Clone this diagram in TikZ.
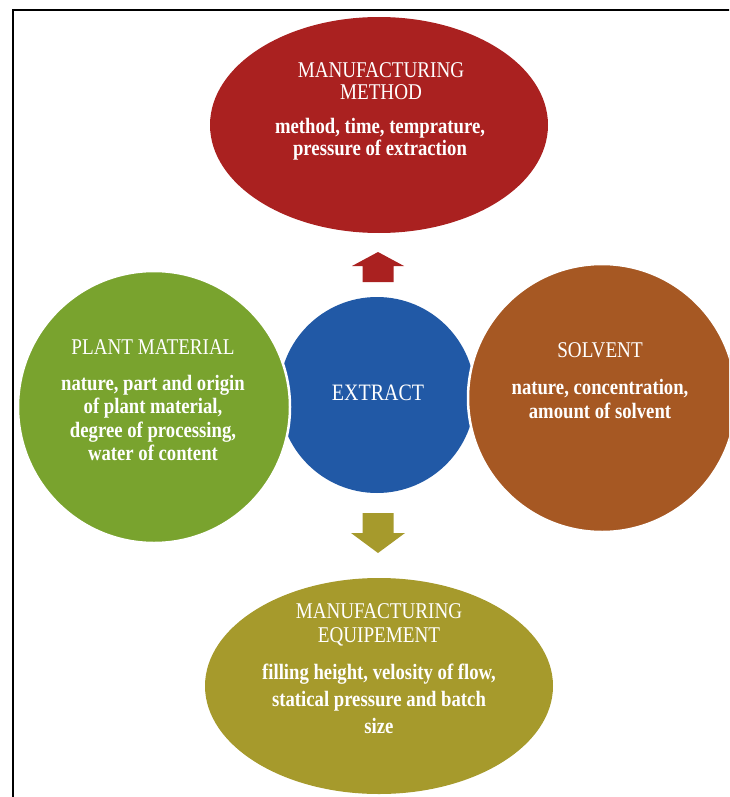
\documentclass[tikz,border=0pt]{standalone}
\usepackage{fontspec}
\setmainfont[FakeStretch=0.85]{Liberation Serif}
\usetikzlibrary{shapes.geometric}

\definecolor{methodred}{RGB}{170,33,32}
\definecolor{extractblue}{RGB}{33,89,166}
\definecolor{plantgreen}{RGB}{121,163,46}
\definecolor{solventbrown}{RGB}{166,88,35}
\definecolor{equipolive}{RGB}{166,154,44}

\begin{document}
\begin{tikzpicture}[x=1pt,y=-1pt,
  blob/.style={ellipse, inner sep=0pt, outer sep=0pt},
  ring/.style={circle, inner sep=0pt, outer sep=0pt, draw=white, line width=2.5pt},
  ttl/.style={text=white, align=center, inner sep=0pt, font=\fontsize{22.5}{21.5}\selectfont},
  body/.style={text=white, align=center, inner sep=0pt, font=\fontsize{22}{22.5}\selectfont\bfseries},
]
\useasboundingbox (0,0) rectangle (729,797);
\clip (0,0) rectangle (729,797);

% frame
\draw[line width=2pt] (13,805) -- (13,10) -- (740,10);

% centre
\node[circle, inner sep=0pt, minimum size=196pt, fill=extractblue] (extract) at (377,395) {};
\node[ttl, font=\fontsize{23.5}{23.5}\selectfont] (extracttxt) at (378,393) {EXTRACT};

% side circles, drawn over the centre with a white rim
\node[ring, minimum size=272pt, fill=plantgreen] (plant) at (154,407) {};
\node[ring, minimum size=268pt, fill=solventbrown] (solvent) at (602,398) {};

% top and bottom ellipses
\node[blob, minimum width=338pt, minimum height=216pt, fill=methodred] (method) at (379,125) {};
\node[blob, minimum width=348pt, minimum height=216pt, fill=equipolive] (equip) at (379,686) {};

% texts
\node[ttl] (methodttl) at (381,81) {MANUFACTURING\\METHOD};
\node[body] (methodbody) at (380,139) {method, time, temprature,\\pressure of extraction};

\node[ttl] (plantttl) at (153,347) {PLANT MATERIAL};
\node[body, font=\fontsize{22}{23.5}\selectfont\bfseries] (plantbody) at (153,418) {nature, part and origin\\of plant material,\\degree of processing,\\water of content};

\node[ttl] (solventttl) at (600,350) {SOLVENT};
\node[body, font=\fontsize{22}{23.5}\selectfont\bfseries] (solventbody) at (600,399) {nature, concentration,\\amount of solvent};

\node[ttl, font=\fontsize{22.5}{24}\selectfont] (equipttl) at (379,625) {MANUFACTURING\\EQUIPEMENT};
\node[body, font=\fontsize{22}{27}\selectfont\bfseries] (equipbody) at (379,699) {filling height, velosity of flow,\\statical pressure and batch\\size};

% block arrows between the centre and the ellipses
\coordinate (upbase) at (378,282);
\coordinate (downbase) at (378,513);
\fill[methodred] (upbase) ++(-15.5,0) -- ++(0,-16) -- ++(-10.5,0) -- ++(26,-14) -- ++(26,14) -- ++(-10.5,0) -- ++(0,16) -- cycle;
\fill[equipolive] (downbase) ++(-15.5,0) -- ++(0,20) -- ++(-11.5,0) -- ++(27,20) -- ++(27,-20) -- ++(-11.5,0) -- ++(0,-20) -- cycle;
\end{tikzpicture}
\end{document}
